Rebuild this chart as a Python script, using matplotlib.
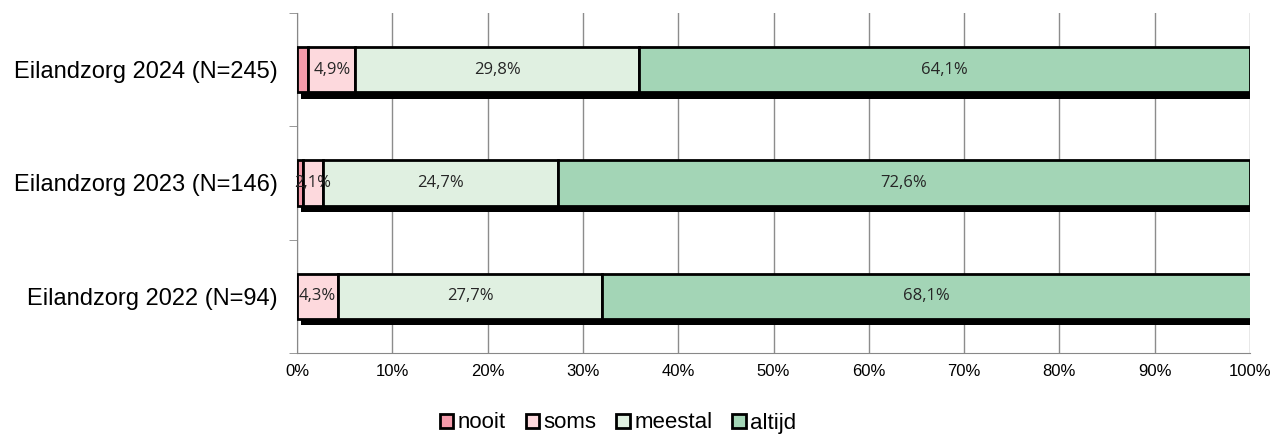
import matplotlib
matplotlib.use("Agg")
import matplotlib.pyplot as plt
import numpy as np

categories = ["Eilandzorg 2024 (N=245)", "Eilandzorg 2023 (N=146)", "Eilandzorg 2022 (N=94)"]
series = ["nooit", "soms", "meestal", "altijd"]
nooit = [1.2, 0.6, 0.0]
soms = [4.9, 2.1, 4.3]
meestal = [29.8, 24.7, 27.7]
altijd = [64.1, 72.6, 68.1]
labels_soms = ["4,9%", "2,1%", "4,3%"]
labels_meestal = ["29,8%", "24,7%", "27,7%"]
labels_altijd = ["64,1%", "72,6%", "68,1%"]
xtick_labels = ["0%", "10%", "20%", "30%", "40%", "50%", "60%", "70%", "80%", "90%", "100%"]

colors = ["#F49BAB", "#FDD9DD", "#E0F0E1", "#A3D5B6"]

fig = plt.figure(figsize=(12.76, 4.37), dpi=100)
ax = fig.add_axes([297/1276, 1-353/437, (1250-297)/1276, (353-13)/437])

y = np.arange(len(categories))
h = 0.4
data = [nooit, soms, meestal, altijd]
totals = np.sum(data, axis=0)

# shadow
ax.barh(y + 0.055, totals, left=0.45, height=h, color="black", zorder=2)

left = np.zeros(len(categories))
for vals, col, name in zip(data, colors, series):
    ax.barh(y, vals, left=left, height=h, color=col, edgecolor="black",
            linewidth=2, label=name, zorder=3)
    left = left + np.array(vals)

lbl_font = dict(family="Open Sans", fontsize=12, color="#262626")
left = np.array(nooit)
for vals, labs in zip([soms, meestal, altijd], [labels_soms, labels_meestal, labels_altijd]):
    for i, (v, l) in enumerate(zip(vals, labs)):
        ax.text(left[i] + v/2, y[i], l, ha="center", va="center", zorder=4, **lbl_font)
    left = left + np.array(vals)

ax.set_xlim(0, 100)
ax.set_ylim(2.5, -0.5)
ax.set_xticks(np.arange(0, 101, 10))
ax.set_xticklabels(xtick_labels, family="Liberation Sans", fontsize=12)
ax.set_yticks(y)
ax.set_yticklabels(categories, family="Liberation Sans", fontsize=17)
ax.set_yticks([-0.5, 0.5, 1.5, 2.5], minor=True)
ax.tick_params(axis="y", which="major", length=0, pad=14)
ax.tick_params(axis="y", which="minor", length=6, color="#888888", direction="out")
ax.tick_params(axis="x", length=0, pad=8)
ax.grid(axis="x", color="#8c8c8c", linewidth=1, zorder=0)
ax.set_axisbelow(True)
for s in ["top", "right"]:
    ax.spines[s].set_visible(False)
ax.spines["left"].set_color("#888888")
ax.spines["bottom"].set_color("#888888")

handles, lbls = ax.get_legend_handles_labels()
leg = fig.legend(handles, lbls, loc="center", bbox_to_anchor=(618/1276, 1-423/437), ncol=4,
                 frameon=False, prop=dict(family="Liberation Sans", size=16),
                 handlelength=0.6, handleheight=0.6, handletextpad=0.2, columnspacing=0.9)

fig.savefig("out.png", dpi=100)
